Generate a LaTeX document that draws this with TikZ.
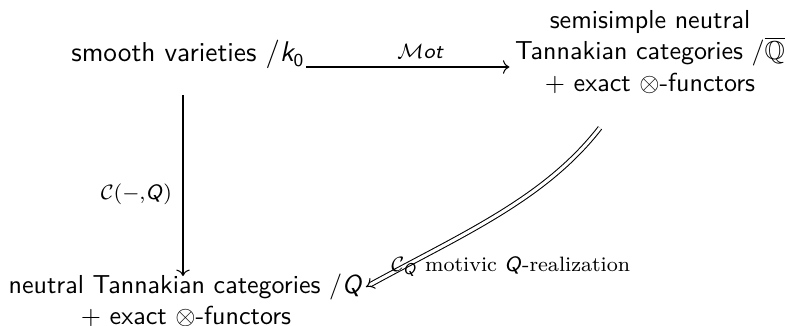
\documentclass[tikz,border=0pt]{standalone}
\usepackage{amssymb}
\usetikzlibrary{arrows.meta,calc}
\DeclareMathAlphabet{\mathsfit}{OT1}{cmss}{m}{sl}
\begin{document}
\begin{tikzpicture}[x=0.3846pt,y=-0.3846pt,
  every node/.style={font=\sffamily, inner sep=0pt},
  big/.style={font=\sffamily\fontsize{10.5}{13}\selectfont},
  lbl/.style={font=\footnotesize},
  arr/.style={->, line width=0.4pt},
  darr/.style={double, double distance=1.2pt, line width=0.4pt, -{Implies[scale=1.4]}}]
\useasboundingbox (0,0) rectangle (790,326);
\node[big, anchor=base] (a) at (188,62) {smooth varieties $/\mathsfit{k}_{\mathsf{0}}$};
\node[align=center] (b) at (650,52) {semisimple neutral\\Tannakian categories $/\overline{\mathbb{Q}}$\\$+$ exact $\otimes$-functors};
\node[align=center] (c) at (186,300) {neutral Tannakian categories $/\mathsfit{Q}$\\$+$ exact $\otimes$-functors};
% horizontal arrow
\coordinate (h1) at ($(a.base east)+(1,5)$);
\draw[arr, shorten >=2pt] (h1) -- (h1 -| b.west)
  node[pos=0.55, above=3pt, lbl] {$\mathcal{M}\mathsfit{ot}$};
% vertical arrow
\coordinate (v1) at ($(a.base)+(-5,33)$);
\draw[arr] (v1) -- ($(v1 |- c.north)+(0,3)$)
  node[pos=0.55, left=4pt, lbl] {$\mathcal{C}(-{,}\mathsfit{Q})$};
% curved double arrow
\coordinate (s) at ($(b.south)+(-50,34)$);
\coordinate (e) at ($(c.north east)+(2,14)$);
\draw[darr] (s) .. controls +(-55,71) and +(97,-53) .. (e);
\node[lbl, anchor=base west] (l) at ($(e)+(25,-16)$) {$\mathcal{C}_{\mathsfit{Q}}$ \rmfamily motivic $\mathsfit{Q}$-realization};
\end{tikzpicture}
\end{document}
